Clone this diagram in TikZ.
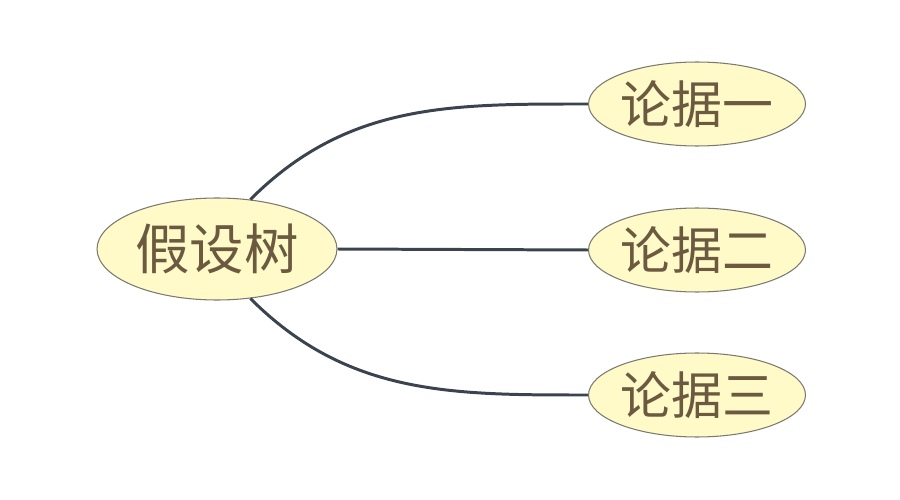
\documentclass[tikz,border=0pt]{standalone}
\usepackage{fontspec}
\usepackage{tikz}
\usetikzlibrary{shapes.geometric}
\newfontfamily\cjk{Noto Sans CJK SC}
\definecolor{nodefill}{HTML}{FFFAC8}
\definecolor{nodeline}{HTML}{7A7A70}
\definecolor{nodetext}{HTML}{6B5A40}
\definecolor{linkcol}{HTML}{3B444E}

\begin{document}
\begin{tikzpicture}[x=0.02cm,y=-0.02cm,
        every node/.style={ellipse,draw=nodeline,fill=nodefill,text=nodetext,inner sep=0pt,line width=0.6pt},
        root/.style={minimum width=4.8cm,minimum height=2.04cm,font=\cjk\fontsize{31}{33}\selectfont},
        leaf/.style={minimum width=4.34cm,minimum height=1.68cm,font=\cjk\fontsize{29}{31}\selectfont},
        link/.style={draw=linkcol,line width=1.7pt}]
    \useasboundingbox (0,0) rectangle (900,500);

    \node[root] (tree) at (217,249) {假设树};
    \node[leaf] (arg1) at (697,104) {论据一}; % top
    \node[leaf] (arg2) at (697,250) {论据二};
    \node[leaf] (arg3) at (697,395) {论据三}; % bottom

    \draw[link] (tree.56) to[out=45,in=180] (arg1.west);
    \draw[link] (tree.east) -- (arg2.west);
    \draw[link] (tree.-56) to[out=-45,in=180] (arg3.west);
\end{tikzpicture}
\end{document}
